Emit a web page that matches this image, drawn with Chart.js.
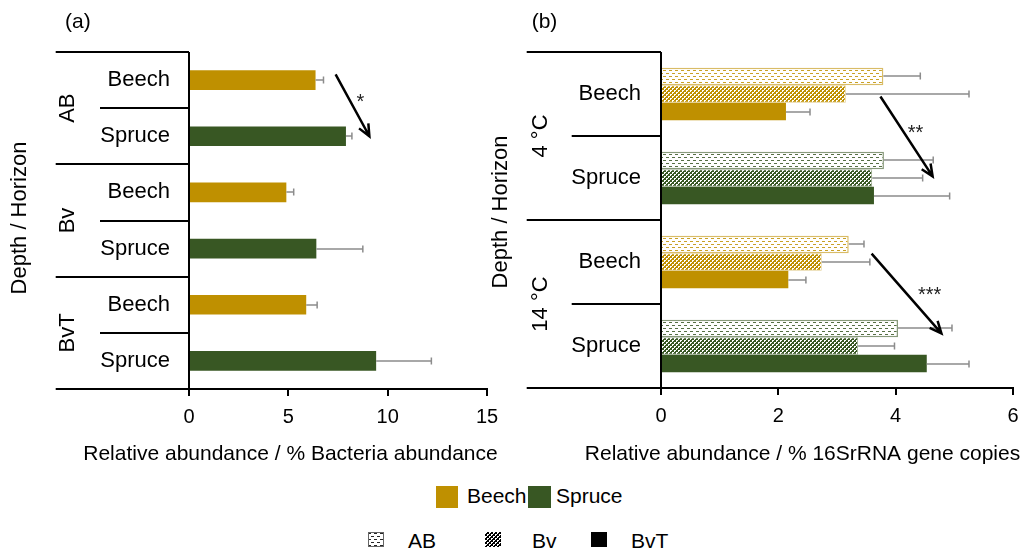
<!DOCTYPE html>
<html>
<head>
<meta charset="utf-8">
<title>Relative abundance by stand and horizon</title>
<script src="https://cdn.jsdelivr.net/npm/chart.js@4.4.1/dist/chart.umd.min.js"></script>
<style>
  body { margin:0; background:#fff; width:1032px; height:553px; position:relative; overflow:hidden;
         font-family:"Liberation Sans", Arial, sans-serif; color:#000; }
  canvas.panel { position:absolute; top:0; }
  #panelA { left:0; }
  #panelB { left:480px; }
  .sw { position:absolute; }
  .kt { position:absolute; font-size:21px; line-height:24px; white-space:nowrap; }
</style>
</head>
<body>
<canvas id="panelA" class="panel" width="500" height="470"></canvas>
<canvas id="panelB" class="panel" width="552" height="470"></canvas>

<!-- stand key -->
<canvas class="sw" id="swBeech" width="22" height="22" style="left:436px;top:486px"></canvas>
<div class="kt" style="left:467px;top:484px">Beech</div>
<canvas class="sw" id="swSpruce" width="23" height="22" style="left:528px;top:486px"></canvas>
<div class="kt" style="left:556px;top:484px">Spruce</div>

<!-- horizon key -->
<canvas class="sw" id="swAB" width="16" height="15" style="left:368px;top:532px"></canvas>
<div class="kt" style="left:408px;top:529px">AB</div>
<canvas class="sw" id="swBv" width="16" height="15" style="left:485px;top:532px"></canvas>
<div class="kt" style="left:532px;top:529px">Bv</div>
<canvas class="sw" id="swBvT" width="16" height="15" style="left:591px;top:532px"></canvas>
<div class="kt" style="left:631px;top:529px">BvT</div>

<script>
/* ── data ── */
// (a) bacteria abundance, rows = horizon x stand
const horizonsA = ['AB', 'Bv', 'BvT'];
const standsA = ['Beech', 'Spruce'];
const bacteriaMean = [6.37, 7.90, 4.90, 6.41, 5.90, 9.42];
const bacteriaErr  = [0.40, 0.30, 0.37, 2.34, 0.55, 2.78];
const ticksA = [0, 5, 10, 15];

// (b) 16S rRNA gene copies, rows = temperature x stand, one series per horizon
const temperaturesB = ['4 °C', '14 °C'];
const standsB = ['Beech', 'Spruce'];
const horizonsB = ['AB', 'Bv', 'BvT'];
const geneAB     = [3.79, 3.80, 3.20, 4.04];
const geneABErr  = [0.63, 0.84, 0.26, 0.92];
const geneBv     = [3.15, 3.60, 2.74, 3.36];
const geneBvErr  = [2.10, 0.86, 0.82, 0.62];
const geneBvT    = [2.13, 3.63, 2.17, 4.53];
const geneBvTErr = [0.41, 1.29, 0.30, 0.72];
const ticksB = [0, 2, 4, 6];

// significance arrows: x in axis units, y in row index units
const arrowsA = [{ x0: 7.38, y0: -0.10, x1: 9.08, y1: 1.00, text: '*',   tx: 8.63, ty: 0.29 }];
const arrowsB = [
  { x0: 3.74, y0: 0.03, x1: 4.63, y1: 0.98, text: '**',  tx: 4.34, ty: 0.40 },
  { x0: 3.59, y0: 1.90, x1: 4.78, y1: 2.85, text: '***', tx: 4.58, ty: 2.33 }
];

const standColors = { Beech: '#BF9000', Spruce: '#385723' };
const FONT = '"Liberation Sans", Arial, sans-serif';

Chart.defaults.font.family = FONT;
Chart.defaults.color = '#000';

/* ── fill patterns ── */
// AB: staggered dashes on white
function dashPattern(color) {
  const c = document.createElement('canvas');
  c.width = 6; c.height = 6;
  const g = c.getContext('2d');
  g.fillStyle = '#fff'; g.fillRect(0, 0, 6, 6);
  g.globalAlpha = 0.85; g.fillStyle = color;
  g.fillRect(0, 1, 3, 1);
  g.fillRect(3, 4, 3, 1);
  return g.createPattern(c, 'repeat');
}
// Bv: white dots on solid colour
function dotPattern(color) {
  const c = document.createElement('canvas');
  c.width = 4; c.height = 4;
  const g = c.getContext('2d');
  g.fillStyle = color; g.fillRect(0, 0, 4, 4);
  g.fillStyle = '#fff';
  g.fillRect(0, 0, 2, 1);
  g.fillRect(0, 1, 1, 1);
  g.fillRect(2, 2, 2, 1);
  g.fillRect(2, 3, 1, 1);
  return g.createPattern(c, 'repeat');
}
function tint(hex, a) {
  const n = parseInt(hex.slice(1), 16);
  return `rgba(${n >> 16},${(n >> 8) & 255},${n & 255},${a})`;
}

/* ── error bars ── */
const errorBars = {
  id: 'errorBars',
  afterDatasetsDraw(chart) {
    const { ctx, scales: { x } } = chart;
    ctx.save();
    ctx.strokeStyle = '#8c8c8c';
    ctx.lineWidth = 1.5;
    chart.data.datasets.forEach((ds, di) => {
      chart.getDatasetMeta(di).data.forEach((bar, i) => {
        const x0 = x.getPixelForValue(ds.data[i]);
        const x1 = x.getPixelForValue(ds.data[i] + ds.errors[i]);
        const yy = Math.round(bar.y);
        ctx.beginPath();
        ctx.moveTo(x0, yy); ctx.lineTo(x1, yy);
        ctx.moveTo(x1, yy - 3.5); ctx.lineTo(x1, yy + 3.5);
        ctx.stroke();
      });
    });
    ctx.restore();
  }
};

/* ── row labels, separators, titles and arrows ── */
function drawArrow(ctx, x0, y0, x1, y1) {
  const ang = Math.atan2(y1 - y0, x1 - x0), len = 13, spread = 0.42;
  ctx.beginPath();
  ctx.moveTo(x0, y0); ctx.lineTo(x1, y1);
  ctx.moveTo(x1 - len * Math.cos(ang - spread), y1 - len * Math.sin(ang - spread));
  ctx.lineTo(x1, y1);
  ctx.lineTo(x1 - len * Math.cos(ang + spread), y1 - len * Math.sin(ang + spread));
  ctx.stroke();
}

const panelFrame = {
  id: 'panelFrame',
  afterDraw(chart, args, o) {
    const { ctx, chartArea: a, scales: { x, y } } = chart;
    const n = chart.data.labels.length;
    const per = o.stands.length;
    ctx.save();
    ctx.strokeStyle = '#000';
    ctx.lineWidth = 2;

    // row separators, long ones between groups
    for (let i = 0; i <= n; i++) {
      const py = Math.round(y.getPixelForValue(i - 0.5));
      const x0 = i % per === 0 ? o.outerX : o.innerX;
      ctx.beginPath();
      ctx.moveTo(x0, py);
      ctx.lineTo(i === n ? a.right : a.left, py);
      ctx.stroke();
    }
    // value axis line
    ctx.beginPath();
    ctx.moveTo(a.left, a.top); ctx.lineTo(a.left, a.bottom);
    ctx.stroke();

    ctx.fillStyle = '#000';
    ctx.textBaseline = 'middle';

    // stand labels
    ctx.font = `22px ${FONT}`;
    ctx.textAlign = 'right';
    chart.data.labels.forEach((l, i) => {
      ctx.fillText(o.stands[i % per], o.labelRight, y.getPixelForValue(i));
    });

    // group labels, rotated
    ctx.textAlign = 'center';
    o.groups.forEach((g, gi) => {
      const yc = (y.getPixelForValue(gi * per - 0.5) + y.getPixelForValue(gi * per + per - 0.5)) / 2;
      ctx.save();
      ctx.translate(o.groupX, yc);
      ctx.rotate(-Math.PI / 2);
      ctx.fillText(g, 0, 0);
      ctx.restore();
    });

    // category axis title
    ctx.save();
    ctx.translate(o.yTitleX, o.yTitleY);
    ctx.rotate(-Math.PI / 2);
    ctx.fillText('Depth / Horizon', 0, 0);
    ctx.restore();

    // value axis title and panel tag
    ctx.font = `21px ${FONT}`;
    ctx.fillText(o.xTitle, o.xTitleX, 454);
    ctx.textAlign = 'left';
    ctx.fillText(o.tag, o.tagX, 22);

    // significance arrows
    ctx.lineWidth = 2.5;
    o.arrows.forEach(ar => {
      drawArrow(ctx,
        x.getPixelForValue(ar.x0), y.getPixelForValue(ar.y0),
        x.getPixelForValue(ar.x1), y.getPixelForValue(ar.y1));
      ctx.font = `20px ${FONT}`;
      ctx.fillStyle = '#222';
      ctx.textAlign = 'center';
      ctx.textBaseline = 'alphabetic';
      ctx.fillText(ar.text, x.getPixelForValue(ar.tx), y.getPixelForValue(ar.ty) + 11.5);
    });
    ctx.restore();
  }
};

function valueAxis(ticks) {
  return {
    type: 'linear',
    min: ticks[0],
    max: ticks[ticks.length - 1],
    // fixed axis band; the layout padding alone sets the plot edges
    afterFit(scale) {
      scale.height = 80;
      scale.paddingLeft = 0;
      scale.paddingRight = 0;
    },
    ticks: { stepSize: ticks[1] - ticks[0], font: { size: 20 }, color: '#000', padding: 9, maxRotation: 0 },
    grid: { display: true, drawOnChartArea: false, drawTicks: true, tickLength: 7, color: '#000', lineWidth: 2 },
    border: { display: true, color: '#000', width: 2 }
  };
}

/* ── (a) ── */
const labelsA = [];
horizonsA.forEach(h => standsA.forEach(s => labelsA.push(`${h} ${s}`)));

new Chart(document.getElementById('panelA'), {
  type: 'bar',
  data: {
    labels: labelsA,
    datasets: [{
      data: bacteriaMean,
      errors: bacteriaErr,
      backgroundColor: labelsA.map((l, i) => standColors[standsA[i % standsA.length]]),
      borderWidth: 0,
      barPercentage: 0.35,
      categoryPercentage: 1
    }]
  },
  options: {
    indexAxis: 'y',
    responsive: false,
    animation: false,
    devicePixelRatio: 1,
    layout: { padding: { left: 189, right: 13, top: 52, bottom: 1 } },
    scales: {
      x: valueAxis(ticksA),
      y: { type: 'category', display: false, offset: true }
    },
    plugins: {
      legend: { display: false },
      tooltip: { enabled: false },
      panelFrame: {
        groups: horizonsA, stands: standsA,
        outerX: 55.7, innerX: 100, labelRight: 170, groupX: 67.5,
        yTitleX: 20, yTitleY: 218,
        xTitle: 'Relative abundance / % Bacteria abundance', xTitleX: 290.5,
        tag: '(a)', tagX: 65,
        arrows: arrowsA
      }
    }
  },
  plugins: [errorBars, panelFrame]
});

/* ── (b) ── */
const labelsB = [];
temperaturesB.forEach(t => standsB.forEach(s => labelsB.push(`${t} ${s}`)));
const rowColor = i => standColors[standsB[i % standsB.length]];

const seriesB = [
  { data: geneAB, errors: geneABErr,
    backgroundColor: labelsB.map((l, i) => dashPattern(rowColor(i))),
    borderColor: labelsB.map((l, i) => tint(rowColor(i), 0.6)), borderWidth: 1.5 },
  { data: geneBv, errors: geneBvErr,
    backgroundColor: labelsB.map((l, i) => dotPattern(rowColor(i))),
    borderColor: labelsB.map((l, i) => tint(rowColor(i), 0.45)), borderWidth: 1 },
  { data: geneBvT, errors: geneBvTErr,
    backgroundColor: labelsB.map((l, i) => rowColor(i)), borderWidth: 0 }
].map((d, k) => Object.assign({ label: horizonsB[k], barPercentage: 1, categoryPercentage: 0.627 }, d));

new Chart(document.getElementById('panelB'), {
  type: 'bar',
  data: { labels: labelsB, datasets: seriesB },
  options: {
    indexAxis: 'y',
    responsive: false,
    animation: false,
    devicePixelRatio: 1,
    layout: { padding: { left: 181, right: 19, top: 52, bottom: 2 } },
    scales: {
      x: valueAxis(ticksB),
      y: { type: 'category', display: false, offset: true }
    },
    plugins: {
      legend: { display: false },
      tooltip: { enabled: false },
      panelFrame: {
        groups: temperaturesB, stands: standsB,
        outerX: 46.7, innerX: 91.7, labelRight: 161, groupX: 60.5,
        yTitleX: 21, yTitleY: 212,
        xTitle: 'Relative abundance / % 16SrRNA gene copies', xTitleX: 322.5,
        tag: '(b)', tagX: 51.7,
        arrows: arrowsB
      }
    }
  },
  plugins: [errorBars, panelFrame]
});

/* ── key swatches ── */
function paintSwatch(id, fill, border) {
  const c = document.getElementById(id), g = c.getContext('2d');
  g.fillStyle = fill; g.fillRect(0, 0, c.width, c.height);
  if (border) { g.strokeStyle = border; g.lineWidth = 1; g.strokeRect(0.5, 0.5, c.width - 1, c.height - 1); }
}
paintSwatch('swBeech', standColors.Beech, tint(standColors.Beech, 0.5));
paintSwatch('swSpruce', standColors.Spruce, tint(standColors.Spruce, 0.5));
paintSwatch('swAB', dashPattern('#000'), '#666');
paintSwatch('swBv', dotPattern('#000'));
paintSwatch('swBvT', '#000');
</script>
</body>
</html>
